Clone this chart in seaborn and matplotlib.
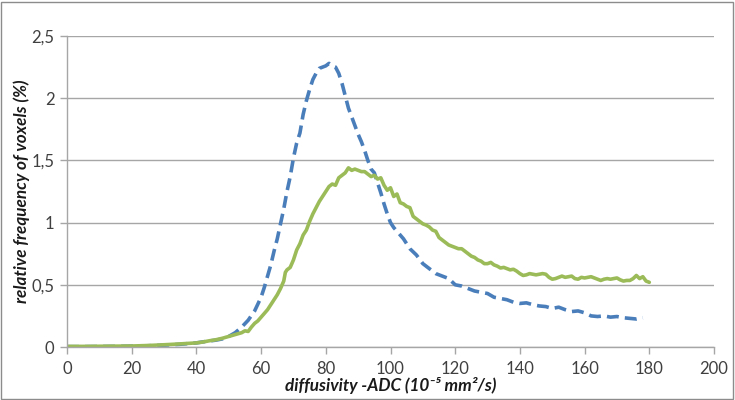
import matplotlib
matplotlib.use("Agg")
import matplotlib.pyplot as plt
import seaborn as sns
import pandas as pd
from matplotlib.patches import Rectangle
from matplotlib.ticker import FuncFormatter

blue_x = [0, 5, 10, 15, 20, 25, 30, 35, 40, 43, 46, 48, 50, 52, 54, 56, 58, 60, 61, 62, 63, 64, 65,
          66, 67, 68, 69, 70, 71, 72, 73, 74, 75, 76, 77, 78, 79, 80, 81, 82, 83, 84, 85, 86, 87,
          88, 89, 90, 91, 92, 93, 94, 95, 96, 97, 98, 99, 100, 101, 102, 103, 104, 106, 108, 110,
          112, 114, 116, 118, 120, 122, 124, 126, 128, 130, 132, 134, 136, 138, 140, 142, 144, 146,
          148, 150, 152, 154, 156, 158, 160, 162, 164, 166, 168, 170, 172, 174, 176, 178]
blue_y = [0.003, 0.003, 0.004, 0.005, 0.007, 0.01, 0.015, 0.022, 0.033, 0.045, 0.055, 0.065, 0.085,
          0.115, 0.16, 0.215, 0.29, 0.40, 0.48, 0.57, 0.66, 0.77, 0.87, 0.99, 1.11, 1.25, 1.37, 1.52,
          1.64, 1.72, 1.87, 1.98, 2.07, 2.15, 2.20, 2.24, 2.25, 2.26, 2.28, 2.26, 2.25, 2.20, 2.12,
          2.02, 1.92, 1.85, 1.78, 1.71, 1.65, 1.58, 1.50, 1.43, 1.40, 1.32, 1.24, 1.15, 1.07, 1.00,
          0.96, 0.93, 0.90, 0.87, 0.79, 0.74, 0.67, 0.63, 0.59, 0.57, 0.55, 0.50, 0.49, 0.47, 0.45,
          0.44, 0.43, 0.40, 0.39, 0.38, 0.36, 0.35, 0.355, 0.34, 0.33, 0.325, 0.31, 0.32, 0.30, 0.285,
          0.29, 0.275, 0.25, 0.245, 0.25, 0.24, 0.245, 0.235, 0.23, 0.225, 0.235]

green_x = [0, 5, 10, 15, 20, 25, 30, 35, 40, 42, 44, 46, 48, 50, 52, 54, 55, 56, 57, 58, 59, 60, 61,
           62, 63, 64, 65, 66, 67, 67.5, 68, 69, 70, 71, 72, 73, 74, 75, 76, 77, 78, 79, 80, 81, 82,
           83, 84, 85, 86, 87, 88, 89, 90, 91, 92, 93, 94, 95, 96, 97, 98, 99, 100, 101, 102, 103,
           104, 105, 106, 107, 108, 109, 110, 111, 112, 113, 114, 115, 116, 117, 118, 119, 120, 121,
           122, 123, 124, 125, 126, 127, 128, 129, 130, 131, 132, 133, 134, 135, 136, 137, 138, 139,
           140, 141, 142, 143, 144, 145, 146, 147, 148, 149, 150, 151, 152, 153, 154, 155, 156, 157,
           158, 159, 160, 161, 162, 163, 164, 165, 166, 167, 168, 169, 170, 171, 172, 173, 174, 175,
           176, 177, 178, 179, 180]
green_y = [0.005, 0.005, 0.006, 0.007, 0.008, 0.012, 0.018, 0.025, 0.033, 0.04, 0.05, 0.058, 0.07,
           0.085, 0.10, 0.115, 0.13, 0.125, 0.16, 0.19, 0.21, 0.24, 0.27, 0.30, 0.34, 0.38, 0.42,
           0.47, 0.53, 0.60, 0.62, 0.64, 0.70, 0.78, 0.83, 0.90, 0.94, 1.01, 1.07, 1.12, 1.17, 1.21,
           1.25, 1.29, 1.31, 1.30, 1.36, 1.38, 1.40, 1.44, 1.42, 1.43, 1.42, 1.41, 1.41, 1.39, 1.37,
           1.38, 1.35, 1.36, 1.30, 1.26, 1.28, 1.21, 1.23, 1.16, 1.15, 1.13, 1.12, 1.05, 1.03, 1.01,
           0.99, 0.98, 0.965, 0.94, 0.93, 0.88, 0.86, 0.84, 0.82, 0.81, 0.80, 0.79, 0.79, 0.77, 0.75,
           0.73, 0.72, 0.70, 0.69, 0.67, 0.67, 0.68, 0.66, 0.65, 0.635, 0.64, 0.63, 0.62, 0.625,
           0.61, 0.59, 0.575, 0.58, 0.59, 0.585, 0.58, 0.585, 0.59, 0.585, 0.56, 0.545, 0.55, 0.56,
           0.57, 0.56, 0.565, 0.57, 0.55, 0.545, 0.56, 0.555, 0.56, 0.565, 0.555, 0.545, 0.535,
           0.545, 0.55, 0.545, 0.55, 0.555, 0.54, 0.53, 0.535, 0.535, 0.55, 0.575, 0.55, 0.565,
           0.53, 0.52]

x_ticks = [0, 20, 40, 60, 80, 100, 120, 140, 160, 180, 200]
y_ticks = [0, 0.5, 1, 1.5, 2, 2.5]

sns.set_style("white")
plt.rcParams['font.family'] = ['Lato', 'DejaVu Sans']

fig = plt.figure(figsize=(7.35, 4.0), dpi=100)
ax = fig.add_axes([67/735, 1-347/400, (714-67)/735, (347-36)/400])

df_b = pd.DataFrame({"x": blue_x, "y": blue_y})
df_g = pd.DataFrame({"x": green_x, "y": green_y})
sns.lineplot(data=df_b, x="x", y="y", ax=ax, color="#4A7EBB", linewidth=2.6,
             linestyle=(0, (3.3, 1.7)), estimator=None, sort=False)
sns.lineplot(data=df_g, x="x", y="y", ax=ax, color="#9BBB59", linewidth=2.6,
             estimator=None, sort=False)

ax.set_xlim(0, 200)
ax.set_ylim(0, 2.5)
ax.set_xticks(x_ticks)
ax.set_yticks(y_ticks)
ax.yaxis.set_major_formatter(FuncFormatter(lambda v, p: ("%g" % v).replace(".", ",")))
ax.grid(axis="y", color="#A6A6A6", linewidth=1.0)
ax.set_axisbelow(True)
for s in ["top", "right"]:
    ax.spines[s].set_visible(False)
for s in ["left", "bottom"]:
    ax.spines[s].set_color("#A6A6A6")
    ax.spines[s].set_linewidth(1.0)
ax.tick_params(axis="both", which="both", direction="out", length=5, width=1.0,
               color="#A6A6A6", labelsize=12, labelcolor="#404040")
ax.tick_params(axis="x", pad=5, bottom=True)
ax.tick_params(axis="y", pad=4, left=True)

ax.set_xlabel("diffusivity -ADC (10⁻⁵ mm²/s)", fontsize=12.3, fontweight="bold",
              fontstyle="italic", color="#1a1a1a", labelpad=0)
ax.set_ylabel("relative frequency of voxels (%)", fontsize=12.3, fontweight="bold",
              fontstyle="italic", color="#1a1a1a", labelpad=1)

fig.patches.append(Rectangle((1/735, 1/400), 732/735, 397/400, transform=fig.transFigure,
                             fill=False, edgecolor="#8C8C8C", linewidth=1.0))

fig.savefig("out.png", dpi=100)
